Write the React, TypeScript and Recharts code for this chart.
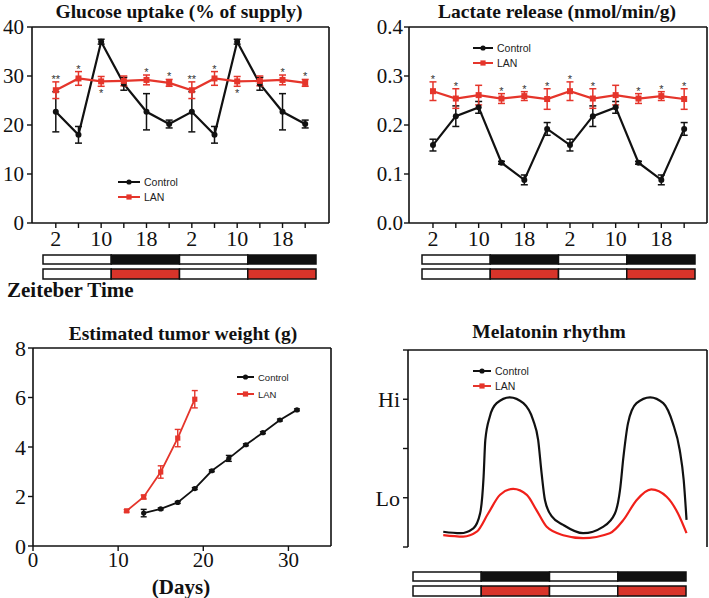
import React from "react";
import { ComposedChart, LineChart, Line, XAxis, YAxis, ErrorBar, Scatter, CartesianGrid } from "recharts";

const INK = "#111";
const RED = "#e5352b";
const BAR_RED = "#d8342a";
const SERIF = '"Liberation Serif", "Times New Roman", serif';
const SANS = '"Liberation Sans", Arial, sans-serif';

// zeitgeber time in 4 h steps over two days, only every other tick labelled
const ztLabels = ["2", "", "10", "", "18", "", "2", "", "10", "", "18", ""];

// glucose uptake (% of supply)
const glucoseCtl = [22.7, 18.0, 37.0, 28.4, 22.7, 20.2, 22.7, 18.0, 37.0, 28.4, 22.7, 20.2];
const glucoseCtlErr = [4.1, 1.7, 0.5, 1.3, 3.7, 0.8, 4.1, 1.7, 0.5, 1.3, 3.7, 0.8];
const glucoseLan = [27.1, 29.5, 28.9, 29.0, 29.2, 28.6, 27.1, 29.5, 28.9, 29.0, 29.2, 28.6];
const glucoseLanErr = [1.7, 1.4, 1.0, 1.0, 1.0, 0.7, 1.7, 1.4, 1.0, 1.0, 1.0, 0.7];
const glucoseStars = ["**", "*", "*", "", "*", "*", "**", "*", "*", "", "*", "*"];
const glucoseStarBelow = [false, false, true, false, false, false, false, false, true, false, false, false];

// lactate release (nmol/min/g)
const lactateCtl = [0.159, 0.218, 0.236, 0.123, 0.088, 0.192, 0.159, 0.218, 0.236, 0.123, 0.088, 0.192];
const lactateCtlErr = [0.012, 0.021, 0.012, 0.003, 0.01, 0.013, 0.012, 0.021, 0.012, 0.003, 0.01, 0.013];
const lactateLan = [0.269, 0.254, 0.261, 0.254, 0.259, 0.253, 0.269, 0.254, 0.261, 0.254, 0.259, 0.253];
const lactateLanErr = [0.019, 0.02, 0.02, 0.01, 0.009, 0.021, 0.019, 0.02, 0.02, 0.01, 0.009, 0.021];
const lactateStars = ["*", "*", "", "*", "*", "*", "*", "*", "", "*", "*", "*"];

// estimated tumor weight (g) against days
const ctlDays = [13, 15, 17, 19, 21, 23, 25, 27, 29, 31];
const ctlWeight = [1.33, 1.5, 1.76, 2.32, 3.04, 3.54, 4.09, 4.58, 5.09, 5.5];
const ctlWeightErr = [0.15, 0.04, 0.04, 0.04, 0.04, 0.12, 0.04, 0.04, 0.04, 0.04];
const lanDays = [11, 13, 15, 17, 19];
const lanWeight = [1.42, 1.98, 2.99, 4.36, 5.93];
const lanWeightErr = [0.05, 0.08, 0.25, 0.35, 0.35];

// melatonin rhythm, hours from start of the light bar, level on a 0-4 scale (Lo = 1, Hi = 3)
const melCtlHours = [5.3, 8.3, 10.6, 11.8, 12.4, 12.7, 13.5, 14.7, 17.0, 19.4, 21.1, 22.0, 22.6, 23.2, 24.4, 26.4, 29.9, 33.4, 35.5, 36.4, 37.0, 37.8, 39.3, 41.7, 44.0, 45.7, 46.9, 47.6, 48.1];
const melCtlLevel = [0.31, 0.28, 0.38, 0.69, 1.43, 2.17, 2.65, 2.92, 3.04, 2.92, 2.58, 2.17, 1.5, 0.95, 0.62, 0.45, 0.28, 0.41, 0.68, 1.16, 1.83, 2.51, 2.92, 3.04, 2.92, 2.51, 1.97, 1.36, 0.55];
const melLanHours = [5.3, 8.8, 11.2, 13.2, 15.3, 17.6, 20.0, 21.7, 23.5, 26.4, 29.9, 34.6, 37.0, 39.3, 41.9, 44.6, 46.6, 48.1];
const melLanLevel = [0.24, 0.21, 0.31, 0.68, 1.06, 1.18, 1.06, 0.75, 0.41, 0.24, 0.18, 0.28, 0.55, 0.95, 1.17, 1.02, 0.68, 0.28];
const melLabels = ["", "Lo", "", "Hi", ""];

const glucoseRows = ztLabels.map((_, i) => ({
  i,
  ctl: glucoseCtl[i],
  ctlErr: glucoseCtlErr[i],
  lan: glucoseLan[i],
  lanErr: glucoseLanErr[i],
}));
const glucoseStarRows = glucoseRows
  .filter((r) => glucoseStars[r.i])
  .map((r) => ({
    i: r.i,
    y: glucoseStarBelow[r.i] ? r.lan - r.lanErr : r.lan + r.lanErr,
    s: glucoseStars[r.i],
    below: glucoseStarBelow[r.i],
  }));

const lactateRows = ztLabels.map((_, i) => ({
  i,
  ctl: lactateCtl[i],
  ctlErr: lactateCtlErr[i],
  lan: lactateLan[i],
  lanErr: lactateLanErr[i],
}));
const lactateStarRows = lactateRows
  .filter((r) => lactateStars[r.i])
  .map((r) => ({ i: r.i, y: r.lan + r.lanErr, s: lactateStars[r.i], below: false }));

const ctlWeightRows = ctlDays.map((d, k) => ({ d, w: ctlWeight[k], e: ctlWeightErr[k] }));
const lanWeightRows = lanDays.map((d, k) => ({ d, w: lanWeight[k], e: lanWeightErr[k] }));
const melCtlRows = melCtlHours.map((h, k) => ({ h, v: melCtlLevel[k] }));
const melLanRows = melLanHours.map((h, k) => ({ h, v: melLanLevel[k] }));

const axisLine = { stroke: INK, strokeWidth: 1.6 };
const tickLine = { stroke: INK, strokeWidth: 1.4 };

const CtlDot = (r: number) => (p: any) =>
  p.cx == null ? null : <circle key={p.index} cx={p.cx} cy={p.cy} r={r} fill={INK} />;
const LanDot = (s: number) => (p: any) =>
  p.cx == null ? null : (
    <rect key={p.index} x={p.cx - s / 2} y={p.cy - s / 2} width={s} height={s} fill={RED} />
  );

const Star = (p: any) => {
  const d = p.payload;
  if (!d || p.cx == null) return <g />;
  return (
    <text x={p.cx} y={d.below ? p.cy + 11 : p.cy + 1} textAnchor="middle" fontSize={11} fontFamily={SANS} fill="#333">
      {d.s}
    </text>
  );
};

// top and right edges of the plot box, taken from the chart's own layout
const topEdge = ({ offset }: any) => [offset.top];
const rightEdge = ({ offset }: any) => [offset.left + offset.width];
const Frame = () => (
  <CartesianGrid
    horizontalCoordinatesGenerator={topEdge}
    verticalCoordinatesGenerator={rightEdge}
    stroke={INK}
    strokeWidth={1.6}
    strokeOpacity={1}
    fill="none"
  />
);

function Key({ x, y, gap, len, fs }: { x: number; y: number; gap: number; len: number; fs: number }) {
  const mid = x + len / 2;
  return (
    <g fontFamily={SANS} fontSize={fs} fill="#222">
      <line x1={x} x2={x + len} y1={y} y2={y} stroke={INK} strokeWidth={2} />
      <circle cx={mid} cy={y} r={2.6} fill={INK} />
      <text x={x + len + 4} y={y} dominantBaseline="central">Control</text>
      <line x1={x} x2={x + len} y1={y + gap} y2={y + gap} stroke={RED} strokeWidth={2} />
      <rect x={mid - 2.6} y={y + gap - 2.6} width={5.2} height={5.2} fill={RED} />
      <text x={x + len + 4} y={y + gap} dominantBaseline="central">LAN</text>
    </g>
  );
}

function Schedule({ x, y, w }: { x: number; y: number; w: number }) {
  const seg = w / 4;
  const rows = [
    { top: y, h: 9, fill: INK },
    { top: y + 14, h: 10, fill: BAR_RED },
  ];
  return (
    <g>
      {rows.map((r, k) =>
        [0, 1, 2, 3].map((j) => (
          <rect
            key={k + "-" + j}
            x={x + j * seg}
            y={r.top}
            width={seg}
            height={r.h}
            fill={j % 2 ? r.fill : "#fff"}
            stroke={INK}
            strokeWidth={1.5}
          />
        ))
      )}
    </g>
  );
}

const yTick = { fontSize: 21, fontFamily: SERIF, fill: INK };
const xTick = { fontSize: 22, fontFamily: SERIF, fill: INK };

export default function App() {
  const idx = glucoseRows.map((r) => r.i);
  return (
    <div style={{ position: "absolute", left: 0, top: 0, width: 709, height: 598, background: "#fff" }}>
      <div style={{ position: "absolute", left: 0, top: 0 }}>
        <ComposedChart width={355} height={300} data={glucoseRows} margin={{ top: 27, right: 26, bottom: 47, left: 0 }}>
          {Frame()}
          <XAxis dataKey="i" type="number" domain={[-1.05, 12.05]} ticks={idx} interval={0}
            tickFormatter={(v: number) => ztLabels[v] ?? ""} height={30} tick={xTick}
            axisLine={axisLine} tickLine={tickLine} tickSize={5} tickMargin={2} />
          <YAxis type="number" domain={[0, 40]} ticks={[0, 10, 20, 30, 40]} width={32} tick={yTick}
            axisLine={axisLine} tickLine={tickLine} tickSize={5} tickMargin={3} />
          <Line dataKey="ctl" stroke={INK} strokeWidth={2.2} dot={CtlDot(3)} isAnimationActive={false}>
            <ErrorBar dataKey="ctlErr" direction="y" width={3.5} stroke={INK} strokeWidth={1.5} />
          </Line>
          <Line dataKey="lan" stroke={RED} strokeWidth={2.2} dot={LanDot(6)} isAnimationActive={false}>
            <ErrorBar dataKey="lanErr" direction="y" width={3.5} stroke={RED} strokeWidth={1.5} />
          </Line>
          <Scatter data={glucoseStarRows} dataKey="y" shape={Star} isAnimationActive={false} />
        </ComposedChart>
      </div>

      <div style={{ position: "absolute", left: 355, top: 0 }}>
        <ComposedChart width={354} height={300} data={lactateRows} margin={{ top: 27, right: 2, bottom: 47, left: 0 }}>
          {Frame()}
          <XAxis dataKey="i" type="number" domain={[-1.05, 12.0]} ticks={idx} interval={0}
            tickFormatter={(v: number) => ztLabels[v] ?? ""} height={30} tick={xTick}
            axisLine={axisLine} tickLine={tickLine} tickSize={5} tickMargin={2} />
          <YAxis type="number" domain={[0, 0.4]} ticks={[0, 0.1, 0.2, 0.3, 0.4]} width={54} tick={yTick}
            tickFormatter={(v: number) => v.toFixed(1)}
            axisLine={axisLine} tickLine={tickLine} tickSize={5} tickMargin={1} />
          <Line dataKey="ctl" stroke={INK} strokeWidth={2.2} dot={CtlDot(3)} isAnimationActive={false}>
            <ErrorBar dataKey="ctlErr" direction="y" width={3.5} stroke={INK} strokeWidth={1.5} />
          </Line>
          <Line dataKey="lan" stroke={RED} strokeWidth={2.2} dot={LanDot(6)} isAnimationActive={false}>
            <ErrorBar dataKey="lanErr" direction="y" width={3.5} stroke={RED} strokeWidth={1.5} />
          </Line>
          <Scatter data={lactateStarRows} dataKey="y" shape={Star} isAnimationActive={false} />
        </ComposedChart>
      </div>

      <div style={{ position: "absolute", left: 0, top: 300 }}>
        <LineChart width={355} height={298} margin={{ top: 48, right: 24, bottom: 22, left: 0 }}>
          {Frame()}
          <XAxis dataKey="d" type="number" domain={[0, 35]} ticks={[0, 10, 20, 30]} height={30}
            tick={{ ...xTick, fontSize: 21 }}
            axisLine={axisLine} tickLine={tickLine} tickSize={5} tickMargin={1} allowDuplicatedCategory={false} />
          <YAxis type="number" domain={[0, 8]} ticks={[0, 2, 4, 6, 8]} width={33} tick={{ ...yTick, fontSize: 22 }}
            axisLine={axisLine} tickLine={tickLine} tickSize={5} tickMargin={2} />
          <Line data={ctlWeightRows} dataKey="w" stroke={INK} strokeWidth={1.8} dot={CtlDot(2.6)} isAnimationActive={false}>
            <ErrorBar dataKey="e" direction="y" width={3} stroke={INK} strokeWidth={1.4} />
          </Line>
          <Line data={lanWeightRows} dataKey="w" stroke={RED} strokeWidth={1.8} dot={LanDot(5.2)} isAnimationActive={false}>
            <ErrorBar dataKey="e" direction="y" width={3} stroke={RED} strokeWidth={1.4} />
          </Line>
        </LineChart>
      </div>

      <div style={{ position: "absolute", left: 355, top: 300 }}>
        <LineChart width={354} height={298} margin={{ top: 50, right: 2, bottom: 51, left: 0 }}>
          {Frame()}
          <XAxis dataKey="h" type="number" domain={[-0.9, 51.7]} height={0} tick={false} tickLine={false}
            axisLine={axisLine} allowDuplicatedCategory={false} />
          <YAxis type="number" domain={[0, 4]} ticks={[0, 1, 2, 3, 4]} width={53}
            tickFormatter={(v: number) => melLabels[v] ?? ""} tick={{ ...yTick, fontSize: 22 }}
            axisLine={axisLine} tickLine={tickLine} tickSize={5} tickMargin={3} />
          <Line data={melCtlRows} dataKey="v" type="monotone" stroke={INK} strokeWidth={2.2} dot={false} isAnimationActive={false} />
          <Line data={melLanRows} dataKey="v" type="monotone" stroke="#f0201a" strokeWidth={2.2} dot={false} isAnimationActive={false} />
        </LineChart>
      </div>

      <svg width={709} height={598} style={{ position: "absolute", left: 0, top: 0, pointerEvents: "none" }}>
        <g fontFamily={SERIF} fontWeight="bold" fontSize={19.5} fill={INK} textAnchor="middle">
          <text x={179} y={18}>Glucose uptake (% of supply)</text>
          <text x={557} y={18}>Lactate release (nmol/min/g)</text>
          <text x={183} y={340}>Estimated tumor weight (g)</text>
          <text x={549} y={338}>Melatonin rhythm</text>
          <text x={181} y={594} fontSize={21}>(Days)</text>
          <text x={7} y={297} textAnchor="start" fontSize={21}>Zeiteber Time</text>
        </g>
        <Key x={118} y={182} gap={15} len={22} fs={10.5} />
        <Key x={473} y={48} gap={15} len={20} fs={10.5} />
        <Key x={237} y={377} gap={17} len={17} fs={9.5} />
        <Key x={473} y={371} gap={15} len={18} fs={10.5} />
        <Schedule x={43} y={255} w={273} />
        <Schedule x={422} y={255} w={273} />
        <Schedule x={413} y={572} w={273} />
      </svg>
    </div>
  );
}
